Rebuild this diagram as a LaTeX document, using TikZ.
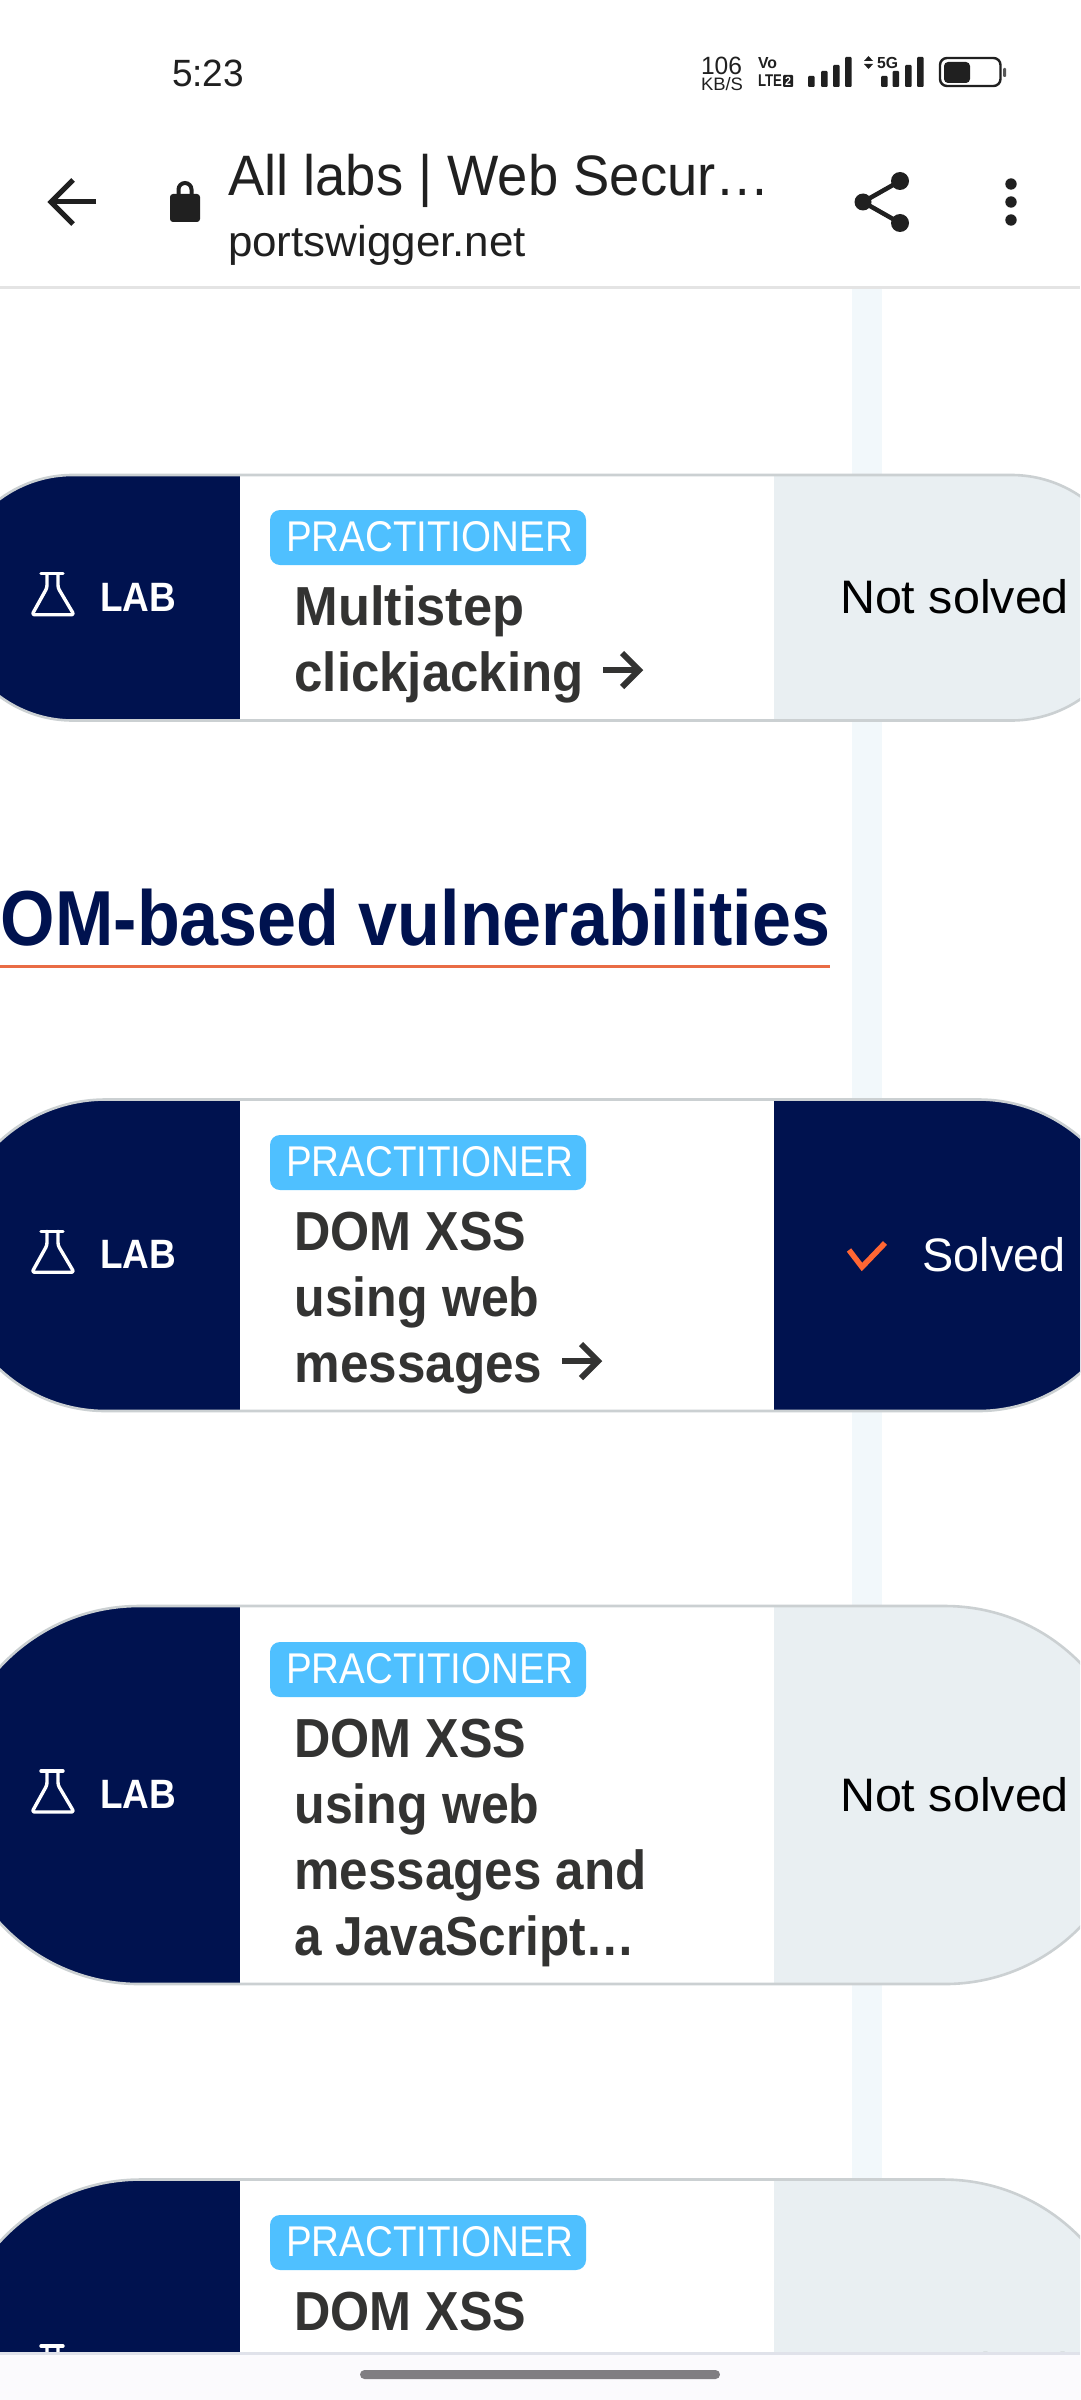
\documentclass[tikz,border=0pt]{standalone}
\usepackage{graphicx}
\usepackage{fontspec}
\setmainfont{Liberation Sans}
\definecolor{navy}{HTML}{00124F}
\definecolor{ink}{HTML}{202020}
\definecolor{titleink}{HTML}{333332}
\definecolor{skyb}{HTML}{4FC0FF}
\definecolor{greyp}{HTML}{E9EFF2}
\definecolor{edgep}{HTML}{CBD0D2}
\definecolor{stripe}{HTML}{F2F8FB}
\definecolor{orangeu}{HTML}{E96C45}
\definecolor{orangec}{HTML}{FF6633}
\definecolor{barfill}{HTML}{FBFAFD}
\definecolor{barline}{HTML}{E0E2EA}
\definecolor{handle}{HTML}{807E82}
\definecolor{topline}{HTML}{E4E4E4}
\tikzset{
  txt/.style={anchor=base west,inner sep=0pt,outer sep=0pt},
  iconline/.style={draw=ink,line width=#1},
  flaskline/.style={draw=white,line width=3.4pt,line join=round,line cap=round},
  titlearrow/.style={draw=titleink,line width=6pt,line join=miter},
  badge/.style={fill=skyb,rounded corners=10pt}
}
\newcommand\fitw[3]{\resizebox{#1pt}{\height}{\fontsize{#2pt}{#2pt}\selectfont #3}}
% name, x-y, width, size, colour, text
\newcommand\lbl[6]{\node[txt,text=#5] (#1) at (#2) {\fitw{#3}{#4}{#6}};}
\newcommand\pill[3]{%
  \pgfmathsetmacro\rr{(#2-#1)/2}%
  \begin{scope}
    \clip[rounded corners=\rr pt] (-50,#1) rectangle (1134,#2);
    \fill[white] (-60,#1) rectangle (1140,#2);
    \fill[navy] (-60,#1) rectangle (240,#2);
    \fill[#3] (774,#1) rectangle (1140,#2);
  \end{scope}
  \draw[edgep,line width=2.6pt,rounded corners=\rr pt] (-50,#1) rectangle (1134,#2);
}
\newcommand\flask[1]{%
  \begin{scope}[shift={(0,#1)}]
    \draw[flaskline] (41,-24) -- (63,-24);
    \draw[flaskline,rounded corners=2.5pt] (47,-24) -- (47,-10) -- (32,17) -- (74,17) -- (58,-10) -- (58,-24);
  \end{scope}
}
\newcommand\badgeat[2]{%
  \fill[badge] (270,#1) rectangle (586,#1+55);
  \lbl{#2}{286,#1+41}{287}{43}{white}{PRACTITIONER}
}
\newcommand\titlearr[2]{%
  \begin{scope}[shift={(#1,#2)}]
    \draw[titlearrow] (0,0) -- (35,0);
    \draw[titlearrow] (19,-17) -- (36,0) -- (19,17);
  \end{scope}
}
\begin{document}
\begin{tikzpicture}[x=1pt,y=-1pt]
\useasboundingbox (0,0) rectangle (1080,2400);
\clip (0,0) rectangle (1080,2400);
\fill[white] (0,0) rectangle (1080,2400);
% timeline stripe
\fill[stripe] (852,289) rectangle (882,2190);

% card 1
\pill{475}{720.5}{greyp}
\flask{597.75}
\lbl{lab1}{100,611}{76}{41}{white}{\bfseries LAB}
\badgeat{510}{b1}
\lbl{t1a}{294.5,625}{230}{55}{titleink}{\bfseries Multistep}
\lbl{t1b}{294.5,691}{289}{55}{titleink}{\bfseries clickjacking}
\titlearr{603}{670}
\lbl{s1}{840,613}{229}{47}{black}{Not solved}

% heading
\lbl{head}{1,945}{829}{78}{navy}{\bfseries OM-based vulnerabilities}
\fill[orangeu] (0,965) rectangle (830,968);

% card 2
\pill{1099.5}{1411}{navy}
\flask{1255.25}
\lbl{lab2}{100,1268.5}{76}{41}{white}{\bfseries LAB}
\badgeat{1135}{b2}
\lbl{t2a}{294.5,1250}{232}{55}{titleink}{\bfseries DOM XSS}
\lbl{t2b}{294.5,1316}{245}{55}{titleink}{\bfseries using web}
\lbl{t2c}{294.5,1382}{248}{55}{titleink}{\bfseries messages}
\titlearr{562}{1361}
\draw[orangec,line width=5.5pt] (849,1250) -- (862,1267) -- (885,1243);
\lbl{s2}{922.5,1271}{143}{47}{white}{Solved}

% card 3
\pill{1606}{1984}{greyp}
\flask{1795}
\lbl{lab3}{100,1808}{76}{41}{white}{\bfseries LAB}
\badgeat{1642}{b3}
\lbl{t3a}{294.5,1757}{232}{55}{titleink}{\bfseries DOM XSS}
\lbl{t3b}{294.5,1823}{245}{55}{titleink}{\bfseries using web}
\lbl{t3c}{294.5,1889}{352}{55}{titleink}{\bfseries messages and}
\lbl{t3d}{294.5,1955}{341}{55}{titleink}{\bfseries a JavaScript…}
\lbl{s3}{840,1811}{229}{47}{black}{Not solved}

% card 4, cut off by the bottom bar
\pill{2179.5}{2561}{greyp}
\flask{2370}
\badgeat{2215}{b4}
\lbl{t4a}{294.5,2330}{232}{55}{titleink}{\bfseries DOM XSS}
\lbl{s4}{840,2386}{229}{47}{black}{Not solved}

% bottom bar
\fill[barfill] (0,2353) rectangle (1080,2400);
\fill[barline] (0,2352) rectangle (1080,2355);
\fill[handle,rounded corners=4.5pt] (360,2370) rectangle (720,2379);

% top bar
\fill[white] (0,0) rectangle (1080,286);
\fill[topline] (0,286) rectangle (1080,289);

% status bar
\lbl{time}{172,87}{72}{38}{ink}{5:23}
\lbl{rate}{701,74.5}{41}{25}{ink}{106}
\lbl{unit}{701,91}{42}{18}{ink}{KB/S}
\lbl{vo}{758,69}{19}{16}{ink}{\bfseries Vo}
\lbl{lte}{758,87}{24}{17}{ink}{\bfseries LTE}
\fill[ink,rounded corners=1pt] (783,75) rectangle (793,87);
\node[txt,text=white] (sim) at (785,85.5) {\fitw{6}{12}{\bfseries 2}};
\foreach \xa/\ya in {808/76,821/71,833/65,845/57}{
  \fill[ink,rounded corners=1pt] (\xa,\ya) rectangle (\xa+6.5,87);
}
\foreach \xa/\ya in {881/76,892.5/71,905/65,917/57}{
  \fill[ink,rounded corners=1pt] (\xa,\ya) rectangle (\xa+6.5,87);
}
\fill[ink] (864,61) -- (868.5,56) -- (873,61) -- cycle;
\fill[ink] (864,64) -- (868.5,69) -- (873,64) -- cycle;
\lbl{fiveg}{877,69}{21}{16}{ink}{\bfseries 5G}
\draw[ink,line width=2.4pt,rounded corners=7pt] (940,58) rectangle (1000.5,86);
\fill[ink,rounded corners=4pt] (944,62) rectangle (970,83);
\fill[ink!75,rounded corners=1pt] (1003,68) rectangle (1006,77);

% toolbar
\draw[iconline=5pt] (96,202) -- (52,202);
\draw[iconline=5pt,line join=miter] (73,180) -- (51,202) -- (73,224);
\fill[ink,rounded corners=3pt] (170,194) rectangle (200,222);
\draw[iconline=4pt] (178.5,196) -- (178.5,189.5) arc[start angle=180,end angle=360,radius=6.5] -- (191.5,196);
\lbl{title}{228,196}{542}{57}{ink}{All labs | Web Secur…}
\lbl{host}{228,257}{298}{43}{ink}{portswigger.net}
\coordinate (sc) at (863,202);
\coordinate (st) at (900,181);
\coordinate (sb) at (900,223);
\draw[iconline=4.5pt] (st) -- (sc) -- (sb);
\fill[ink] (sc) circle (8.5) (st) circle (9) (sb) circle (9);
\fill[ink] (1011,184) circle (5.7) (1011,202) circle (5.7) (1011,220) circle (5.7);
\end{tikzpicture}
\end{document}
